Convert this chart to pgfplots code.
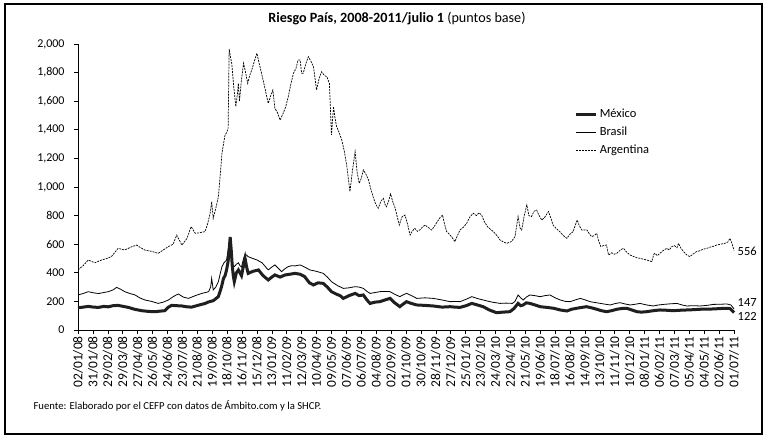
\documentclass[border=0pt]{standalone}
\usepackage{pgfplots}
\pgfplotsset{compat=1.18}
\usepackage{pgfplotstable}
\usepackage{fontspec}
\setmainfont{Carlito}

\pgfplotstableread{
d v
0 420
10 450
20 489
33 470
46 490
56 500
65 513
78 571
91 559
103 580
114 594
122 575
130 559
143 550
156 536
166 560
176 583
185 600
192 664
202 594
212 640
220 723
228 676
237 680
247 688
252 740
257 816
260 897
263 781
268 850
273 932
277 1100
280 1236
286 1364
289 1380
292 1410
294 1965
297 1900
299 1865
303 1700
307 1562
310 1650
312 1725
314 1600
318 1750
322 1865
326 1800
330 1725
334 1780
338 1818
343 1880
348 1935
352 1870
357 1795
363 1700
370 1585
375 1640
379 1678
383 1550
388 1520
393 1468
399 1515
404 1560
409 1631
414 1720
419 1795
424 1830
428 1888
432 1888
435 1795
438 1795
443 1860
448 1911
453 1880
458 1841
464 1678
469 1760
474 1806
479 1780
484 1771
489 1725
493 1364
497 1562
500 1480
503 1422
508 1380
513 1329
518 1250
523 1142
529 967
534 1120
539 1247
543 1100
547 1026
551 1060
555 1119
560 1090
565 1049
570 980
574 932
579 880
584 851
589 900
594 921
597 880
600 862
604 900
608 951
612 900
617 851
621 790
625 734
630 790
636 804
641 740
646 664
650 690
655 711
660 690
665 700
670 720
675 734
680 720
688 699
694 730
701 769
705 790
709 804
713 740
717 688
722 670
727 650
733 618
738 660
743 699
750 720
756 746
762 790
769 816
775 800
780 820
785 804
790 760
797 720
808 688
815 660
821 629
828 615
834 606
843 618
850 653
856 793
860 711
863 699
868 800
873 874
877 800
882 793
887 830
892 839
897 800
902 769
908 790
915 828
920 780
924 734
930 710
937 688
944 660
951 641
957 670
963 688
967 730
971 769
975 730
980 699
985 700
990 699
995 670
999 653
1004 660
1009 676
1013 620
1017 583
1022 590
1028 594
1032 524
1038 540
1043 530
1048 536
1055 560
1061 571
1067 545
1074 524
1080 515
1087 505
1093 501
1100 495
1106 490
1111 484
1116 478
1120 530
1122 536
1127 520
1132 536
1138 555
1145 571
1150 560
1155 583
1160 590
1165 575
1168 606
1173 570
1178 548
1184 525
1190 513
1196 530
1203 548
1210 555
1216 565
1223 571
1230 580
1236 585
1242 594
1250 600
1258 606
1264 615
1268 641
1272 606
1276 556
}\argentina

\pgfplotstableread{
d v
0 245
10 255
20 268
30 260
40 255
50 262
59 268
68 280
75 298
83 285
91 268
101 255
111 245
120 225
130 210
143 200
156 186
166 195
176 210
186 235
195 252
205 230
215 221
228 240
241 256
248 262
254 268
258 300
260 361
263 280
268 300
273 338
277 400
280 443
284 470
289 490
292 560
295 620
298 600
300 480
302 450
304 443
308 460
312 470
315 450
318 440
322 500
325 530
328 524
331 513
340 500
348 490
358 470
370 420
377 440
383 455
390 430
396 408
403 430
409 443
416 450
422 448
432 455
441 440
451 420
464 410
477 396
485 370
493 338
505 310
516 291
527 295
539 303
547 300
555 291
562 270
568 256
578 262
587 268
597 270
607 268
616 250
626 233
632 245
639 256
649 240
659 221
675 225
691 221
708 210
724 198
733 200
743 198
755 215
766 233
777 220
788 210
805 195
821 186
833 188
845 186
850 200
856 245
861 225
866 210
872 230
879 245
889 240
899 233
908 240
918 245
928 225
938 210
948 200
957 198
967 210
977 221
987 210
996 198
1006 192
1016 186
1026 180
1035 175
1045 185
1054 191
1064 182
1074 175
1084 180
1093 186
1106 175
1119 168
1129 175
1139 179
1152 183
1165 186
1175 175
1184 168
1197 170
1210 168
1223 172
1236 179
1249 180
1262 182
1270 175
1276 147
}\brasil

\pgfplotstableread{
d v
0 155
10 160
20 165
30 160
40 158
50 165
59 162
68 170
78 172
88 165
98 158
110 145
124 135
137 130
150 128
160 132
169 135
176 160
182 172
192 170
202 168
212 162
221 160
231 170
241 180
247 185
253 195
263 205
273 233
279 300
283 361
286 380
289 420
292 480
294 560
296 650
298 560
300 450
302 380
304 338
308 400
312 420
315 400
318 380
322 450
325 500
328 440
331 396
340 410
351 420
360 380
370 350
377 370
383 385
393 370
403 385
412 390
422 396
432 390
441 373
450 330
458 315
467 330
477 326
485 300
493 268
503 250
510 240
516 221
527 240
539 256
547 240
555 245
562 210
568 186
578 195
587 198
597 210
607 221
616 190
626 163
632 180
639 198
649 185
659 175
675 172
691 168
708 160
724 163
733 160
743 158
755 170
766 186
777 175
788 163
800 140
814 121
827 125
840 128
848 150
856 186
861 170
866 175
872 190
879 186
889 175
899 163
912 158
925 152
938 140
951 133
960 145
970 152
980 158
989 163
999 155
1009 145
1018 135
1028 128
1038 135
1048 145
1057 150
1067 152
1077 140
1087 128
1096 125
1106 128
1119 135
1132 140
1145 138
1158 135
1171 138
1184 140
1197 142
1210 145
1223 146
1236 147
1249 150
1262 152
1268 150
1271 140
1276 122
}\mexico

\begin{document}
\begin{tikzpicture}[x=1bp,y=1bp]
\useasboundingbox (0,0) rectangle (763,435);
\draw[line width=2bp] (5,1) rectangle (761.5,431);
\node[font=\fontsize{14.2}{16}\selectfont] at (397,416) {\textbf{Riesgo País, 2008-2011/julio 1} (puntos base)};
\node[anchor=west, font=\fontsize{10.7}{12}\selectfont] at (30,29) {Fuente: Elaborado por el CEFP con datos de Ámbito.com y la SHCP.};
\begin{axis}[
  at={(78bp,105bp)}, anchor=south west,
  scale only axis, width=656bp, height=286bp,
  xmin=0, xmax=1276, ymin=0, ymax=2000,
  axis lines*=left,
  axis line style={line width=0.6bp},
  tick align=outside,
  major tick length=4bp,
  tick style={line width=0.6bp, black},
  ytick={0,200,...,2000},
  xtick={0,29,...,1276},
  xticklabels={02/01/08,31/01/08,29/02/08,29/03/08,27/04/08,26/05/08,24/06/08,23/07/08,21/08/08,19/09/08,18/10/08,16/11/08,15/12/08,13/01/09,11/02/09,12/03/09,10/04/09,09/05/09,07/06/09,06/07/09,04/08/09,02/09/09,01/10/09,30/10/09,28/11/09,27/12/09,25/01/10,23/02/10,24/03/10,22/04/10,21/05/10,19/06/10,18/07/10,16/08/10,14/09/10,13/10/10,11/11/10,10/12/10,08/01/11,06/02/11,07/03/11,05/04/11,04/05/11,02/06/11,01/07/11},
  xticklabel style={rotate=90, anchor=east, font=\fontsize{13.5}{14}\selectfont, inner sep=2bp},
  yticklabel style={font=\fontsize{12}{13}\selectfont, xshift=-6bp},
  /pgf/number format/assume math mode=true,
  /pgf/number format/1000 sep={,},
  scaled y ticks=false,
  clip=false,
  reverse legend,
  legend style={at={(0.757,0.78)}, anchor=north west, draw=none, fill=none,
    font=\fontsize{12.5}{14}\selectfont, row sep=4bp, inner sep=0pt, cells={anchor=west}},
  legend image code/.code={\draw[#1] (0bp,0bp) -- (20bp,0bp);},
]
\addplot[black, line width=0.7bp, dash pattern=on 2bp off 1bp] table[x=d,y=v] {\argentina};
\addlegendentry{Argentina}
\addplot[black, line width=0.8bp] table[x=d,y=v] {\brasil};
\addlegendentry{Brasil}
\addplot[black!88, line width=3bp] table[x=d,y=v] {\mexico};
\addlegendentry{México}
\node[anchor=west, font=\fontsize{12.5}{14}\selectfont, inner sep=0pt] at (axis cs:1276,548) [xshift=3.5bp] {556};
\node[anchor=west, font=\fontsize{12.5}{14}\selectfont, inner sep=0pt] at (axis cs:1276,192) [xshift=3.5bp] {147};
\node[anchor=west, font=\fontsize{12.5}{14}\selectfont, inner sep=0pt] at (axis cs:1276,93) [xshift=3.5bp] {122};
\end{axis}
\end{tikzpicture}
\end{document}
